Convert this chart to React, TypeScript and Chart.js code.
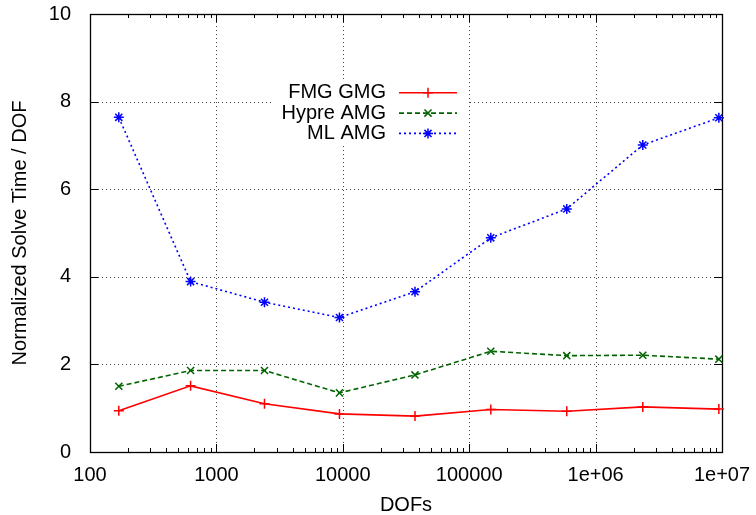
import React, { useEffect, useRef } from 'react';
import { Chart, registerables } from 'chart.js';
import { drawPoint } from 'chart.js/helpers';

Chart.register(...registerables);

const dofs = [169, 625, 2401, 9409, 37249, 148225, 591361, 2362369, 9443329];
const fmgGmg = [0.94, 1.51, 1.1, 0.87, 0.82, 0.97, 0.93, 1.03, 0.98];
const hypreAmg = [1.5, 1.86, 1.86, 1.35, 1.76, 2.3, 2.2, 2.21, 2.12];
const mlAmg = [7.64, 3.89, 3.42, 3.07, 3.66, 4.89, 5.55, 7.01, 7.63];

const xTickValues = [100, 1000, 10000, 100000, 1000000, 10000000];
const xTickLabels = ['100', '1000', '10000', '100000', '1e+06', '1e+07'];
const yTickValues = [0, 2, 4, 6, 8, 10];
const minorMultipliers = [2, 3, 4, 5, 6, 7, 8, 9];

const seriesNames = ['FMG GMG', 'Hypre AMG', 'ML AMG'];
const seriesColors = ['#ff0000', '#006400', '#0000ff'];
const seriesDashes = [[], [5, 3], [2, 3]];
const seriesPoints = ['cross', 'crossRot', 'star'];
const seriesValues = [fmgGmg, hypreAmg, mlAmg];

const FONT = '"Liberation Sans", Arial, sans-serif';

const frame = {
  id: 'gnuplotFrame',
  beforeDatasetsDraw(chart: any) {
    const { ctx, chartArea: a, scales } = chart;
    const xs = scales.x;
    const ys = scales.y;
    ctx.save();
    // grid
    ctx.strokeStyle = 'rgba(0,0,0,0.75)';
    ctx.lineWidth = 1;
    ctx.setLineDash([1, 3]);
    xTickValues.slice(1, -1).forEach((v) => {
      const x = Math.round(xs.getPixelForValue(v)) + 0.5;
      ctx.beginPath();
      ctx.moveTo(x, a.top);
      ctx.lineTo(x, a.bottom);
      ctx.stroke();
    });
    yTickValues.slice(1, -1).forEach((v) => {
      const y = Math.round(ys.getPixelForValue(v)) + 0.5;
      ctx.beginPath();
      ctx.moveTo(a.left, y);
      ctx.lineTo(a.right, y);
      ctx.stroke();
    });
    ctx.setLineDash([]);
    // ticks
    ctx.strokeStyle = '#000';
    ctx.lineWidth = 1;
    const major = 8;
    const minor = 4;
    const vtick = (v: number, len: number) => {
      const x = Math.round(xs.getPixelForValue(v)) + 0.5;
      ctx.beginPath();
      ctx.moveTo(x, a.bottom);
      ctx.lineTo(x, a.bottom - len);
      ctx.moveTo(x, a.top);
      ctx.lineTo(x, a.top + len);
      ctx.stroke();
    };
    xTickValues.forEach((v) => vtick(v, major));
    xTickValues.slice(0, -1).forEach((d) => minorMultipliers.forEach((m) => vtick(d * m, minor)));
    yTickValues.forEach((v) => {
      const y = Math.round(ys.getPixelForValue(v)) + 0.5;
      ctx.beginPath();
      ctx.moveTo(a.left, y);
      ctx.lineTo(a.left + major, y);
      ctx.moveTo(a.right, y);
      ctx.lineTo(a.right - major, y);
      ctx.stroke();
    });
    // border
    ctx.lineWidth = 1.3;
    ctx.strokeRect(Math.round(a.left) + 0.5, Math.round(a.top) + 0.5, Math.round(a.right - a.left), Math.round(a.bottom - a.top));
    ctx.restore();
  },
  afterDatasetsDraw(chart: any) {
    const { ctx } = chart;
    ctx.save();
    ctx.fillStyle = '#fff';
    ctx.fillRect(273, 79, 195, 66);
    seriesNames.forEach((name, i) => {
      const y = 92.8 + i * 20.3;
      ctx.font = `20px ${FONT}`;
      ctx.fillStyle = '#000';
      ctx.textAlign = 'right';
      ctx.textBaseline = 'middle';
      ctx.fillText(name, 386, y);
      ctx.strokeStyle = seriesColors[i];
      ctx.fillStyle = seriesColors[i];
      ctx.lineWidth = 1.6;
      ctx.setLineDash(seriesDashes[i]);
      ctx.beginPath();
      ctx.moveTo(399, y);
      ctx.lineTo(457, y);
      ctx.stroke();
      ctx.setLineDash([]);
      ctx.lineWidth = 1.5;
      drawPoint(ctx, { pointStyle: seriesPoints[i], radius: 5, borderWidth: 1.5, rotation: 0 } as any, 428, y);
    });
    ctx.restore();
  },
};

export default function App() {
  const ref = useRef<HTMLCanvasElement>(null);
  useEffect(() => {
    if (!ref.current) return;
    const chart = new Chart(ref.current, {
      type: 'line',
      data: {
        datasets: seriesNames.map((name, i) => ({
          label: name,
          data: dofs.map((x, j) => ({ x, y: seriesValues[i][j] })),
          borderColor: seriesColors[i],
          backgroundColor: seriesColors[i],
          borderWidth: 1.6,
          borderDash: seriesDashes[i],
          pointStyle: seriesPoints[i] as any,
          pointRadius: 5,
          pointBorderWidth: 1.5,
          pointBorderColor: seriesColors[i],
          fill: false,
          tension: 0,
          clip: false as any,
        })),
      },
      options: {
        animation: false,
        responsive: false,
        devicePixelRatio: 1,
        layout: { padding: { top: 14, right: 34, left: 0, bottom: 0 } },
        plugins: { legend: { display: false }, tooltip: { enabled: false } },
        scales: {
          x: {
            type: 'logarithmic',
            min: 100,
            max: 10000000,
            grid: { display: false },
            border: { display: false },
            afterBuildTicks: (s: any) => {
              s.ticks = xTickValues.map((v) => ({ value: v }));
            },
            afterFit: (s: any) => {
              s.height = 63;
              s.paddingLeft = 0;
              s.paddingRight = 0;
            },
            ticks: {
              autoSkip: false,
              maxRotation: 0,
              padding: 3,
              color: '#000',
              font: { family: FONT, size: 20 },
              callback: (v: any) => {
                const i = xTickValues.indexOf(Number(v));
                return i >= 0 ? xTickLabels[i] : '';
              },
            },
            title: {
              display: true,
              text: 'DOFs',
              color: '#000',
              font: { family: FONT, size: 20 },
              padding: { top: 0, bottom: -2 },
            },
          },
          y: {
            min: 0,
            max: 10,
            grid: { display: false },
            border: { display: false },
            afterBuildTicks: (s: any) => {
              s.ticks = yTickValues.map((v) => ({ value: v }));
            },
            afterFit: (s: any) => {
              s.width = 90;
              s.paddingTop = 0;
              s.paddingBottom = 0;
            },
            ticks: {
              padding: 11,
              color: '#000',
              font: { family: FONT, size: 20 },
              callback: (v: any) => String(v),
            },
            title: {
              display: true,
              text: 'Normalized Solve Time / DOF',
              color: '#000',
              font: { family: FONT, size: 20 },
              padding: { top: 8, bottom: 0 },
            },
          },
        },
      },
      plugins: [frame],
    });
    return () => chart.destroy();
  }, []);
  return (
    <div style={{ position: 'absolute', left: 0, top: 0, width: 756, height: 515 }}>
      <canvas ref={ref} width={756} height={515} />
    </div>
  );
}
